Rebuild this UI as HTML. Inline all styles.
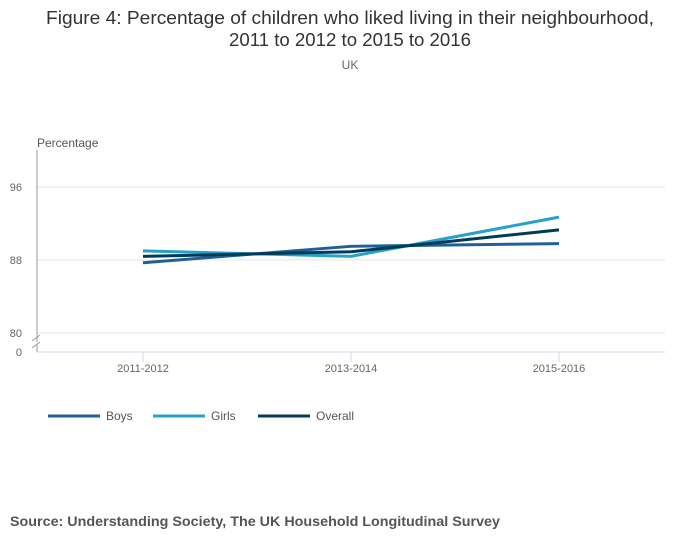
<!DOCTYPE html>
<html><head><meta charset="utf-8"><style>
html,body{margin:0;padding:0;background:#fff;}
svg{display:block;font-family:"Liberation Sans",sans-serif;}
</style></head><body>
<svg id="chart" width="700" height="549">
<text x="350" y="24" text-anchor="middle" font-size="18" fill="#333" textLength="608" lengthAdjust="spacingAndGlyphs">Figure 4: Percentage of children who liked living in their neighbourhood,</text>
<text x="350" y="46" text-anchor="middle" font-size="18" fill="#333" textLength="242" lengthAdjust="spacingAndGlyphs">2011 to 2012 to 2015 to 2016</text>
<text x="350" y="69" text-anchor="middle" font-size="12" fill="#666">UK</text>
<text x="37" y="147" font-size="12" fill="#555">Percentage</text>
<g id="grid"></g>
<line x1="37" y1="150" x2="37" y2="342" stroke="#999" stroke-width="1"/>
<line x1="37" y1="345" x2="37" y2="352" stroke="#999" stroke-width="1"/>
<path d="M32,341 L40,335 M32,348 L40,342" stroke="#999" fill="none"/>
<line x1="37" y1="352" x2="665" y2="352" stroke="#ccd6eb" stroke-width="1"/>
<text x="22" y="356" font-size="11" fill="#666" text-anchor="end">0</text>
<g id="xaxis"></g>
<g id="series"></g>
<g id="legend"></g>
<text x="10" y="526" font-size="14" font-weight="bold" fill="#555" textLength="490" lengthAdjust="spacingAndGlyphs">Source: Understanding Society, The UK Household Longitudinal Survey</text>
</svg>
<script>
const categories = ["2011-2012","2013-2014","2015-2016"];
const seriesNames = ["Boys","Girls","Overall"];
const boys = [87.7, 89.5, 89.8];
const girls = [89.0, 88.4, 92.7];
const overall = [88.4, 88.9, 91.3];
const yTicks = [80, 88, 96];

const NS = "http://www.w3.org/2000/svg";
const colors = ["#206095","#27a0cc","#003c57"];
function y(v){ return 333 - (v - 80) * (73/8); }
function x(i){ return 143 + i * 208; }
function mk(tag, attrs, parent){
  const e = document.createElementNS(NS, tag);
  for (const k in attrs) e.setAttribute(k, attrs[k]);
  parent.appendChild(e); return e;
}
const grid = document.getElementById("grid");
yTicks.forEach(t => {
  const l = mk("line",{x1:37,x2:665,y1:y(t),y2:y(t),stroke:"#e6e6e6","stroke-width":1},grid);
  
  
  const tx = mk("text",{x:22,y:y(t)+4,"font-size":11,fill:"#666","text-anchor":"end"},grid);
  tx.textContent = t;
  
  
});
const xa = document.getElementById("xaxis");
categories.forEach((c,i) => {
  const l = mk("line",{x1:x(i),x2:x(i),y1:352,y2:362,stroke:"#ccd6eb"},xa);
  
  
  const t = mk("text",{x:x(i),y:372,"font-size":11,fill:"#666","text-anchor":"middle"},xa);
  t.textContent = c;
  
  
});
const sg = document.getElementById("series");
[boys, girls, overall].forEach((vals, s) => {
  const d = vals.map((v,i) => (i ? "L" : "M") + x(i) + "," + y(v)).join(" ");
  const p = mk("path",{d:d,fill:"none",stroke:colors[s],"stroke-width":3,"stroke-linejoin":"round"},sg);
  
  
});
const lg = document.getElementById("legend");
const lx = [48, 153, 258];
seriesNames.forEach((n,s) => {
  const g = mk("g",{},lg);
  
  
  mk("line",{x1:lx[s],x2:lx[s]+52,y1:416,y2:416,stroke:colors[s],"stroke-width":3},g);
  const t = mk("text",{x:lx[s]+58,y:420,"font-size":12,fill:"#555"},g);
  t.textContent = n;
});
</script>
</body></html>
